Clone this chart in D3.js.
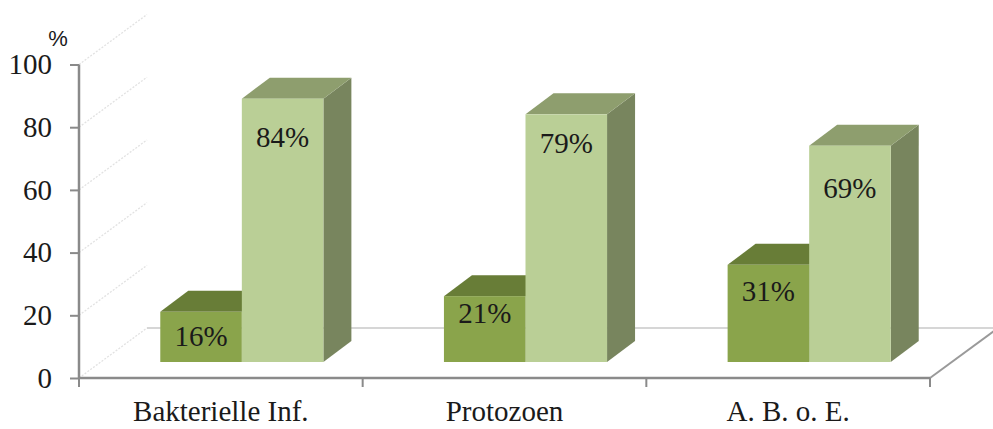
<!DOCTYPE html>
<html>
<head>
<meta charset="utf-8">
<script src="https://cdn.jsdelivr.net/npm/d3@7"></script>
<style>
  html, body { margin: 0; padding: 0; background: #fff; }
  svg { display: block; }
  .serif { font-family: "Liberation Serif", "Times New Roman", Times, serif; }
</style>
</head>
<body>
<svg id="chart" width="993" height="429"></svg>
<script>
// ---- data ----
const categories = ["Bakterielle Inf.", "Protozoen", "A. B. o. E."];
const seriesNames = ["A", "B"];
const seriesA = [16, 21, 31];
const seriesB = [84, 79, 69];
const yTicks = [0, 20, 40, 60, 80, 100];
const yLabel = "%";

// ---- layout ----
const W = 993, H = 429;
const svg = d3.select("#chart");
const axisLeft = 79, axisRight = 930, axisBottom = 378, axisTop = 64.5;
const floorDx = 68, floorDy = -50;      // depth of the floor / wall
const barShiftX = 21, barShiftY = -16;  // bar front offset from floor front
const barDx = 28, barDy = -21;          // depth of each bar
const labelDy = [[24, 17, 26], [38, 29, 42]];
const FS = 29;

const x0 = d3.scaleBand().domain(categories).range([axisLeft, axisRight]).paddingInner(0).paddingOuter(0);
const groupW = x0.bandwidth() * 0.575;
const x1 = d3.scaleBand().domain(seriesNames)
  .range([(x0.bandwidth() - groupW) / 2, (x0.bandwidth() + groupW) / 2]).padding(0);
const y = d3.scaleLinear().domain([0, 100]).range([axisBottom, axisTop]);

const colors = {
  A: { front: "#8aa44b", top: "#687d37", side: "#5f7332" },
  B: { front: "#bacf96", top: "#8e9e6e", side: "#78855e" }
};

// side wall dotted gridlines
svg.append("g").selectAll("line").data(yTicks).join("line")
  .attr("x1", axisLeft).attr("y1", d => y(d))
  .attr("x2", axisLeft + floorDx).attr("y2", d => y(d) + floorDy)
  .attr("stroke", "#e2e2e2").attr("stroke-width", 1.3).attr("stroke-dasharray", "2,1.5");

// floor back edge
svg.append("line")
  .attr("x1", axisLeft + floorDx).attr("y1", axisBottom + floorDy)
  .attr("x2", W).attr("y2", axisBottom + floorDy)
  .attr("stroke", "#c8c8c8").attr("stroke-width", 1.5);

// floor right edge
svg.append("line")
  .attr("x1", axisRight).attr("y1", axisBottom)
  .attr("x2", axisRight + floorDx).attr("y2", axisBottom + floorDy)
  .attr("stroke", "#9a9a9a").attr("stroke-width", 2);

// bars
const seriesVals = { A: seriesA, B: seriesB };
const barsG = svg.append("g");
categories.forEach((cat, i) => {
  seriesNames.forEach(s => {
    const v = seriesVals[s][i];
    const xa = x0(cat) + x1(s) + barShiftX;
    const xb = xa + x1.bandwidth();
    const yt = y(v) + barShiftY;
    const yb = y(0) + barShiftY;
    const c = colors[s];
    const g = barsG.append("g");
    g.append("polygon")
      .attr("points", [[xb, yt], [xb + barDx, yt + barDy], [xb + barDx, yb + barDy], [xb, yb]].map(p => p.join(",")).join(" "))
      .attr("fill", c.side);
    g.append("polygon")
      .attr("points", [[xa, yt], [xa + barDx, yt + barDy], [xb + barDx, yt + barDy], [xb, yt]].map(p => p.join(",")).join(" "))
      .attr("fill", c.top);
    g.append("rect")
      .attr("x", xa).attr("y", yt).attr("width", xb - xa).attr("height", yb - yt)
      .attr("fill", c.front);
  });
});

// value labels
const labelsG = svg.append("g");
categories.forEach((cat, i) => {
  seriesNames.forEach((s, si) => {
    const v = seriesVals[s][i];
    const xa = x0(cat) + x1(s) + barShiftX;
    const yt = y(v) + barShiftY;
    labelsG.append("text")
      .attr("class", "serif")
      .attr("x", xa + x1.bandwidth() / 2)
      .attr("y", yt + labelDy[si][i])
      .attr("dy", "0.35em")
      .attr("text-anchor", "middle")
      .attr("font-size", FS)
      .attr("fill", "#1a1a1a")
      .text(v + "%");
  });
});

// y axis
const yAxis = d3.axisLeft(y).tickValues(yTicks).tickSize(9).tickPadding(18).tickFormat(d3.format("d"));
const gy = svg.append("g").attr("transform", `translate(${axisLeft},0)`).call(yAxis)
  .attr("font-family", null).attr("font-size", null);
gy.select(".domain").attr("stroke", "#8a8a8a").attr("stroke-width", 2.5)
  .attr("d", `M0,${axisTop}V${axisBottom}`);
gy.selectAll(".tick line").attr("stroke", "#8a8a8a").attr("stroke-width", 2);
gy.selectAll(".tick text")
  .attr("class", "serif")
  .attr("font-size", FS).attr("fill", "#1a1a1a");

// x axis
const xAxis = d3.axisBottom(x0).tickSize(0).tickPadding(22);
const gx = svg.append("g").attr("transform", `translate(0,${axisBottom})`).call(xAxis)
  .attr("font-family", null).attr("font-size", null);
gx.select(".domain").attr("stroke", "#8a8a8a").attr("stroke-width", 2.5)
  .attr("d", `M${axisLeft},0H${axisRight}`);
gx.selectAll(".tick text")
  .attr("class", "serif")
  .attr("font-size", FS).attr("fill", "#1a1a1a");
// category boundary ticks
const bounds = categories.map(c => x0(c)).concat([axisRight]);
svg.append("g").selectAll("line").data(bounds).join("line")
  .attr("x1", d => d).attr("x2", d => d)
  .attr("y1", axisBottom).attr("y2", axisBottom + 9)
  .attr("stroke", "#8a8a8a").attr("stroke-width", 2);

// unit label
svg.append("text")
  .attr("x", 58).attr("y", 46)
  .attr("text-anchor", "middle")
  .attr("font-family", "'Liberation Sans', Arial, sans-serif")
  .attr("font-size", 22).attr("fill", "#1a1a1a")
  .text(yLabel);
</script>
</body>
</html>
